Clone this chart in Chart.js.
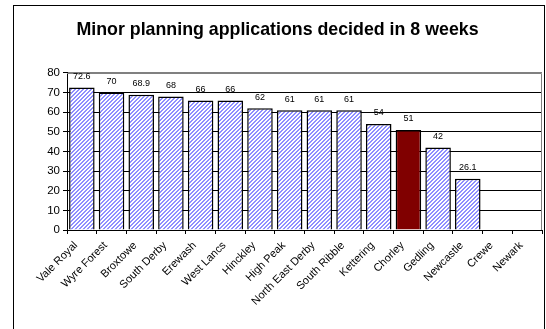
<!DOCTYPE html>
<html>
<head>
<meta charset="utf-8">
<script src="https://cdn.jsdelivr.net/npm/chart.js@4/dist/chart.umd.min.js"></script>
<style>
  html, body { margin: 0; padding: 0; background: #ffffff; }
  #wrap { width: 546px; height: 329px; }
</style>
</head>
<body>
<div id="wrap"><canvas id="c" width="546" height="329"></canvas></div>
<script>
// Councils, ordered by share of minor applications decided within 8 weeks
const councils = ['Vale Royal', 'Wyre Forest', 'Broxtowe', 'South Derby', 'Erewash', 'West Lancs',
  'Hinckley', 'High Peak', 'North East Derby', 'South Ribble', 'Kettering', 'Chorley',
  'Gedling', 'Newcastle', 'Crewe', 'Newark'];
const percentDecided = [72.6, 70, 68.9, 68, 66, 66, 62, 61, 61, 61, 54, 51, 42, 26.1, null, null];
const highlighted = 'Chorley';
const yTicks = [0, 10, 20, 30, 40, 50, 60, 70, 80];

// Light blue diagonal stipple used for the ordinary bars
function hatchPattern() {
  const p = document.createElement('canvas');
  p.width = 4; p.height = 4;
  const g = p.getContext('2d');
  g.fillStyle = '#ffffff';
  g.fillRect(0, 0, 4, 4);
  g.fillStyle = '#8f8fff';
  const cells = [[0, 3], [1, 2], [2, 1], [3, 0], [1, 3], [2, 2], [3, 1], [0, 0]];
  cells.forEach(([x, y]) => g.fillRect(x, y, 1, 1));
  return g.createPattern(p, 'repeat');
}

const ctx = document.getElementById('c').getContext('2d');
const hatch = hatchPattern();
const barFills = councils.map(c => c === highlighted ? '#800000' : hatch);

// Outer frame and grey plot-area edges
const framePlugin = {
  id: 'frame',
  beforeDraw(chart) {
    const c = chart.ctx;
    c.save();
    c.strokeStyle = '#000000';
    c.lineWidth = 1;
    c.strokeRect(13.5, 5.5, 531, 340);
    c.restore();
  },
  beforeDatasetsDraw(chart) {
    const a = chart.chartArea;
    const c = chart.ctx;
    c.save();
    c.strokeStyle = '#808080';
    c.lineWidth = 1;
    c.beginPath();
    c.moveTo(a.left, Math.round(a.top) + 0.5);
    c.lineTo(Math.round(a.right) - 0.5, Math.round(a.top) + 0.5);
    c.lineTo(Math.round(a.right) - 0.5, a.bottom);
    c.stroke();
    c.restore();
  }
};

// Value labels above each bar
const valueLabels = {
  id: 'valueLabels',
  afterDatasetsDraw(chart) {
    const c = chart.ctx;
    const meta = chart.getDatasetMeta(0);
    c.save();
    c.font = '9px "Liberation Sans", Arial, sans-serif';
    c.fillStyle = '#000000';
    c.textAlign = 'center';
    c.textBaseline = 'middle';
    meta.data.forEach((bar, i) => {
      const v = percentDecided[i];
      if (v === null) return;
      c.fillText(String(v), bar.x, bar.y - 11);
    });
    c.restore();
  }
};

new Chart(ctx, {
  type: 'bar',
  data: {
    labels: councils,
    datasets: [{
      data: percentDecided,
      backgroundColor: barFills,
      borderColor: '#000000',
      borderWidth: 1.5,
      borderSkipped: 'bottom',
      categoryPercentage: 0.86,
      barPercentage: 1.0
    }]
  },
  options: {
    responsive: false,
    animation: false,
    devicePixelRatio: 1,
    layout: { padding: { top: 5, left: 13, right: 4, bottom: 0 } },
    plugins: {
      legend: { display: false },
      tooltip: { enabled: false },
      title: {
        display: true,
        text: 'Minor planning applications decided in 8 weeks',
        color: '#000000',
        font: { family: '"Liberation Sans", Arial, sans-serif', size: 17.8, weight: 'bold' },
        padding: { top: 14.3, bottom: 32.3 }
      }
    },
    scales: {
      x: {
        grid: {
          offset: true,
          drawOnChartArea: false,
          drawTicks: true,
          tickLength: 4,
          tickColor: '#000000'
        },
        border: { color: '#000000', width: 1 },
        ticks: {
          color: '#000000',
          minRotation: 45,
          maxRotation: 45,
          autoSkip: false,
          padding: 5,
          labelOffset: -6,
          font: { family: '"Liberation Sans", Arial, sans-serif', size: 11 }
        },
        afterFit(scale) { scale.height = 99; }
      },
      y: {
        min: 0,
        max: 80,
        afterBuildTicks(scale) { scale.ticks = yTicks.map(v => ({ value: v })); },
        grid: {
          color: ctx2 => ctx2.tick && ctx2.tick.value === 80 ? '#808080' : '#000000',
          tickColor: '#000000',
          tickLength: 4,
          drawTicks: true
        },
        border: { color: '#000000', width: 1 },
        ticks: {
          color: '#000000',
          padding: 3,
          font: { family: '"Liberation Sans", Arial, sans-serif', size: 11.5 }
        },
        afterFit(scale) { scale.width = 54; }
      }
    }
  },
  plugins: [framePlugin, valueLabels]
});
</script>
</body>
</html>
